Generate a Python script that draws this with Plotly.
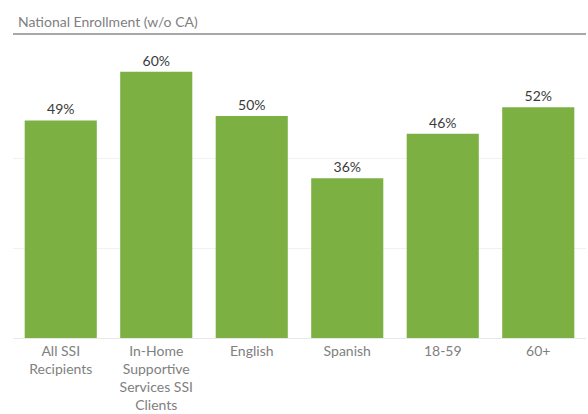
import plotly.graph_objects as go

categories = ["All SSI<br>Recipients", "In-Home<br>Supportive<br>Services SSI<br>Clients",
              "English", "Spanish", "18-59", "60+"]
values = [49, 60, 50, 36, 46, 52]
value_labels = ["49%", "60%", "50%", "36%", "46%", "52%"]
title_text = "National Enrollment (w/o CA)"

W, H = 588, 414
M_T, M_B, M_L, M_R = 69, 76, 13, 2

fig = go.Figure(go.Bar(
    x=categories, y=values, text=value_labels, textposition="outside",
    cliponaxis=False, marker=dict(color="#7cb043", line=dict(width=0)),
    textfont=dict(size=14, color="#3a3a3a", family="Lato"),
    hoverinfo="skip",
))

plot_h = H - M_T - M_B
fig.update_layout(
    width=W, height=H,
    margin=dict(l=M_L, r=M_R, t=M_T, b=M_B, autoexpand=False),
    paper_bgcolor="white", plot_bgcolor="white",
    bargap=0.245, showlegend=False,
    font=dict(family="Lato", size=14, color="#777777"),
    xaxis=dict(showline=True, linecolor="#e8e8e8", linewidth=1, ticks="",
               tickfont=dict(size=14, color="#808080"), showgrid=False,
               automargin=False),
    yaxis=dict(range=[0, 60.6], tick0=0, dtick=20.2, showticklabels=False,
               showgrid=True, gridcolor="#f1f1f1", gridwidth=1, zeroline=False,
               automargin=False),
    annotations=[dict(text=title_text, xref="paper", yref="paper", x=0, y=1,
                      xshift=3, yshift=M_T - 21, xanchor="left", yanchor="middle",
                      showarrow=False,
                      font=dict(size=14, color="#808080", family="Lato"))],
    shapes=[dict(type="line", xref="paper", yref="paper", x0=0, x1=1,
                 y0=1 + (M_T - 34) / plot_h, y1=1 + (M_T - 34) / plot_h,
                 line=dict(color="#a8a8a8", width=2))],
)
fig.write_html("out.html", config={"displayModeBar": False},
               post_script="document.body.style.margin='0px';")
